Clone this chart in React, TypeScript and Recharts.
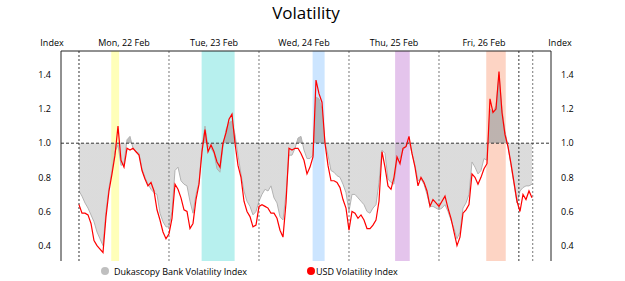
import {
  ComposedChart,
  Area,
  Line,
  XAxis,
  YAxis,
  ReferenceLine,
  ReferenceArea,
  Legend,
} from "recharts";

// one sample every 0.8 h, starting Mon 22 Feb 00:00
const HOURS_PER_SAMPLE = 0.8;

const usdIndex = [
  0.64, 0.59, 0.59, 0.58, 0.53, 0.43, 0.4, 0.38, 0.36, 0.57,
  0.72, 0.82, 0.93, 1.1, 0.9, 0.86, 0.97, 0.96, 0.97, 0.95,
  0.93, 0.84, 0.79, 0.75, 0.77, 0.72, 0.61, 0.55, 0.48, 0.44,
  0.47, 0.56, 0.76, 0.73, 0.68, 0.61, 0.6, 0.5, 0.53, 0.67,
  0.76, 0.95, 1.08, 0.95, 0.99, 0.95, 0.89, 0.86, 1.0, 1.06,
  1.14, 1.17, 1.0, 0.87, 0.8, 0.66, 0.6, 0.57, 0.51, 0.52,
  0.63, 0.64, 0.63, 0.62, 0.59, 0.59, 0.56, 0.49, 0.45, 0.65,
  0.97, 0.96, 0.97, 0.97, 0.94, 0.9, 0.82, 0.86, 0.92, 1.37,
  1.29, 1.24, 1.0, 0.87, 0.78, 0.78, 0.77, 0.74, 0.67, 0.62,
  0.49, 0.6, 0.59, 0.56, 0.58, 0.55, 0.5, 0.5, 0.52, 0.55,
  0.66, 0.95, 0.86, 0.75, 0.73, 0.8, 0.92, 0.88, 0.97, 0.98,
  1.04, 0.94, 0.86, 0.75, 0.8, 0.77, 0.72, 0.63, 0.67, 0.65,
  0.63, 0.66, 0.69, 0.62, 0.56, 0.48, 0.4, 0.45, 0.59, 0.61,
  0.64, 0.82, 0.8, 0.76, 0.8, 0.85, 0.88, 1.26, 1.18, 1.2,
  1.42, 1.18, 1.05, 0.98, 0.88, 0.77, 0.66, 0.6, 0.7, 0.67,
  0.72, 0.68,
];

const dukascopyIndex = [
  0.72, 0.69, 0.65, 0.62, 0.58, 0.54, 0.48, 0.44, 0.4, 0.6,
  0.74, 0.84, 0.95, 0.99, 0.87, 0.88, 1.02, 1.04, 0.97, 0.95,
  0.94, 0.85, 0.8, 0.76, 0.73, 0.71, 0.7, 0.59, 0.54, 0.51,
  0.51, 0.6, 0.84, 0.86, 0.78, 0.76, 0.75, 0.66, 0.59, 0.7,
  0.77, 0.98, 1.1, 0.98, 0.97, 0.94, 0.85, 0.83, 0.98, 1.08,
  1.12, 1.13, 1.05, 0.93, 0.82, 0.72, 0.66, 0.63, 0.58, 0.6,
  0.66, 0.7, 0.73, 0.72, 0.75, 0.68, 0.65, 0.57, 0.55, 0.7,
  0.93, 0.93, 0.97, 1.03, 1.04, 0.96, 0.91, 0.91, 0.93, 1.27,
  1.26, 1.2, 1.0, 0.93, 0.84, 0.83, 0.81, 0.8, 0.76, 0.71,
  0.6, 0.7, 0.7, 0.68, 0.66, 0.64, 0.6, 0.59, 0.62, 0.64,
  0.77, 0.96, 0.94, 0.79, 0.77, 0.76, 0.9, 0.91, 0.96, 0.98,
  1.01, 0.94, 0.87, 0.78, 0.79, 0.76, 0.7, 0.63, 0.63, 0.62,
  0.61, 0.62, 0.64, 0.6, 0.55, 0.5, 0.44, 0.48, 0.62, 0.65,
  0.7, 0.89, 0.86, 0.82, 0.84, 0.91, 0.9, 1.2, 1.18, 1.22,
  1.4, 1.2, 1.07, 0.98, 0.87, 0.76, 0.65, 0.72, 0.74, 0.75,
  0.75, 0.76,
];

const dayLabels = ["Mon, 22 Feb", "Tue, 23 Feb", "Wed, 24 Feb", "Thu, 25 Feb", "Fri, 26 Feb"];
const dayStartHours = [0, 24, 48, 72, 96];
const markerHours = [117.3, 121];
const highlightRanges: [number, number][] = [
  [8.6, 10.7],
  [32.7, 41.5],
  [62.3, 65.5],
  [84.3, 88.2],
  [108.6, 113.8],
];
const highlightColors = ["#ffffb9", "#b7f0ee", "#cce5ff", "#e4c4ec", "#fdd4c4"];
const yTicks = [0.4, 0.6, 0.8, 1.0, 1.2, 1.4];

const data = usdIndex.map((v, i) => ({
  t: i * HOURS_PER_SAMPLE,
  usd: v,
  duka: dukascopyIndex[i],
}));

const X_DOMAIN: [number, number] = [-4.8, 125.87];
const Y_DOMAIN: [number, number] = [0.31, 1.54];

// split the fill colour at the 1.0 level
const dukaMax = Math.max(...dukascopyIndex);
const dukaMin = Math.min(...dukascopyIndex);
const splitOffset = (dukaMax - 1) / (dukaMax - dukaMin);

const tickStyle = { fontSize: 9, fill: "#000" };

const LegendContent = () => (
  <div style={{ position: "relative", height: 20, fontSize: 9, lineHeight: "22px", color: "#000" }}>
    <div style={{ position: "absolute", left: 80, top: 0, whiteSpace: "nowrap" }}>
      <span style={{ display: "inline-block", width: 8, height: 8, borderRadius: 4, background: "#bfbfbf", marginRight: 5 }} />
      Dukascopy Bank Volatility Index
    </div>
    <div style={{ position: "absolute", left: 286, top: 0, whiteSpace: "nowrap" }}>
      <span style={{ display: "inline-block", width: 8, height: 8, borderRadius: 4, background: "#ff0000", marginRight: 1 }} />
      USD Volatility Index
    </div>
  </div>
);

export default function App() {
  return (
    <div style={{ position: "absolute", left: 0, top: 0, width: 625, height: 281, fontFamily: '"Open Sans", sans-serif' }}>
      <ComposedChart width={625} height={281} data={data} margin={{ top: 31, right: 34, bottom: 0, left: 21 }}>
        <defs>
          <linearGradient id="dukaFill" x1="0" y1="0" x2="0" y2="1">
            <stop offset={splitOffset} stopColor="#a8a8a8" stopOpacity={0.75} />
            <stop offset={splitOffset} stopColor="#b0b0b0" stopOpacity={0.45} />
          </linearGradient>
        </defs>

        {highlightRanges.map(([from, to], i) => (
          <ReferenceArea key={i} x1={from} x2={to} fill={highlightColors[i]} fillOpacity={1} stroke="none" ifOverflow="hidden" />
        ))}

        <XAxis type="number" dataKey="t" domain={X_DOMAIN} allowDataOverflow tick={false} tickLine={false} height={0} axisLine={{ stroke: "#222" }} />
        <XAxis
          xAxisId="top"
          orientation="top"
          type="number"
          dataKey="t"
          domain={X_DOMAIN}
          allowDataOverflow
          ticks={dayStartHours.map((h) => h + 12)}
          tickFormatter={(_v, i) => dayLabels[i]}
          tickLine={false}
          tickSize={0}
          tickMargin={5}
          height={20}
          axisLine={{ stroke: "#222" }}
          tick={tickStyle}
          interval={0}
        />
        <YAxis
          domain={Y_DOMAIN}
          allowDataOverflow
          ticks={yTicks}
          tickFormatter={(v) => v.toFixed(1)}
          width={40}
          tickLine={false}
          tickSize={6}
          tickMargin={4}
          axisLine={{ stroke: "#222" }}
          tick={tickStyle}
          label={{ value: "Index", position: "top", offset: 5, dx: 11, fontSize: 9, fill: "#000" }}
        />
        <YAxis
          yAxisId="right"
          orientation="right"
          domain={Y_DOMAIN}
          allowDataOverflow
          ticks={yTicks}
          tickFormatter={(v) => v.toFixed(1)}
          width={40}
          tickLine={false}
          tickSize={6}
          tickMargin={4}
          axisLine={{ stroke: "#222" }}
          tick={tickStyle}
          label={{ value: "Index", position: "top", offset: 5, dx: -11, fontSize: 9, fill: "#000" }}
        />

        {dayStartHours.map((h, i) => (
          <ReferenceLine key={h} x={h} stroke={i === 0 ? "#333" : "#777"} strokeDasharray="2 2" />
        ))}
        {markerHours.map((h, i) => (
          <ReferenceLine key={h} x={h} stroke={i === 0 ? "#333" : "#777"} strokeDasharray="2 2" />
        ))}
        <ReferenceLine y={1} stroke="#333" strokeDasharray="3 2" />

        <Area
          type="linear"
          dataKey="duka"
          baseValue={1}
          stroke="#b3b3b3"
          strokeWidth={1}
          fill="url(#dukaFill)"
          fillOpacity={1}
          dot={false}
          activeDot={false}
          isAnimationActive={false}
        />
        <Line type="linear" dataKey="usd" stroke="#ff0000" strokeWidth={1.2} dot={false} activeDot={false} isAnimationActive={false} />

        <Legend verticalAlign="bottom" height={20} content={LegendContent} />
      </ComposedChart>
      <div style={{ position: "absolute", left: 0, width: 612, top: 4, textAlign: "center", fontSize: 17, lineHeight: "17px", color: "#000" }}>
        Volatility
      </div>
    </div>
  );
}
